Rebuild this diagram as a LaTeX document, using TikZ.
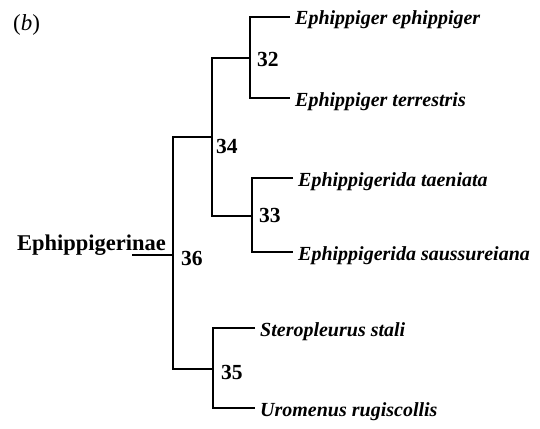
\documentclass[tikz,border=0pt]{standalone}
\usepackage{fontspec}
\setmainfont{Liberation Serif}
\usetikzlibrary{positioning}

\begin{document}
\begin{tikzpicture}[
    x=1pt, y=-1pt,
    branch/.style={line width=1.8pt},
    leaf/.style={anchor=west, inner xsep=5pt, inner ysep=0pt, text height=16pt, text depth=0pt,
        font=\fontsize{20}{22}\selectfont\bfseries\itshape},
    num/.style={inner sep=0pt, font=\fontsize{21.5}{24}\selectfont\bfseries}
  ]
  \useasboundingbox (0,0) rectangle (540,428);
  \node[inner sep=0pt, anchor=north west, font=\fontsize{23}{25}\selectfont] (tag) at (13,14) {(\textit{b})};

  \node[leaf] (e1) at (290,17)  {Ephippiger ephippiger};
  \node[leaf] (e2) at (290,98)  {Ephippiger terrestris};
  \node[leaf] (e3) at (293,178) {Ephippigerida taeniata};
  \node[leaf] (e4) at (293,252) {Ephippigerida saussureiana};
  \node[leaf] (e5) at (255,328) {Steropleurus stali};
  \node[leaf] (e6) at (255,408) {Uromenus rugiscollis};

  \coordinate (n32) at (250,58);
  \coordinate (n33) at (252,216);
  \coordinate (n34) at (212,137);
  \coordinate (n35) at (213,369);
  \coordinate (n36) at (173,255);
  \coordinate (r0)  at (132,255);

  \node[num, right=7pt of n32, yshift=-1pt] (l32) {32};
  \node[num, right=7pt of n33, yshift=1pt]  (l33) {33};
  \node[num, right=4pt of n34, yshift=-9pt] (l34) {34};
  \node[num, right=8pt of n35, yshift=-3pt] (l35) {35};
  \node[num, right=8pt of n36, yshift=-3pt] (l36) {36};
  \node[anchor=base east, inner sep=0pt, font=\fontsize{22.5}{24}\selectfont\bfseries] (root) at (166,250) {Ephippigerinae};

  \draw[branch] (e1.west) -| (n32) |- (e2.west);
  \draw[branch] (e3.west) -| (n33) |- (e4.west);
  \draw[branch] (e5.west) -| (n35) |- (e6.west);
  \draw[branch] (n34) |- (n32);
  \draw[branch] (n34) |- (n33);
  \draw[branch] (n36) |- (n34);
  \draw[branch] (n36) |- (n35);
  \draw[branch] (r0) -- (n36);
\end{tikzpicture}
\end{document}
